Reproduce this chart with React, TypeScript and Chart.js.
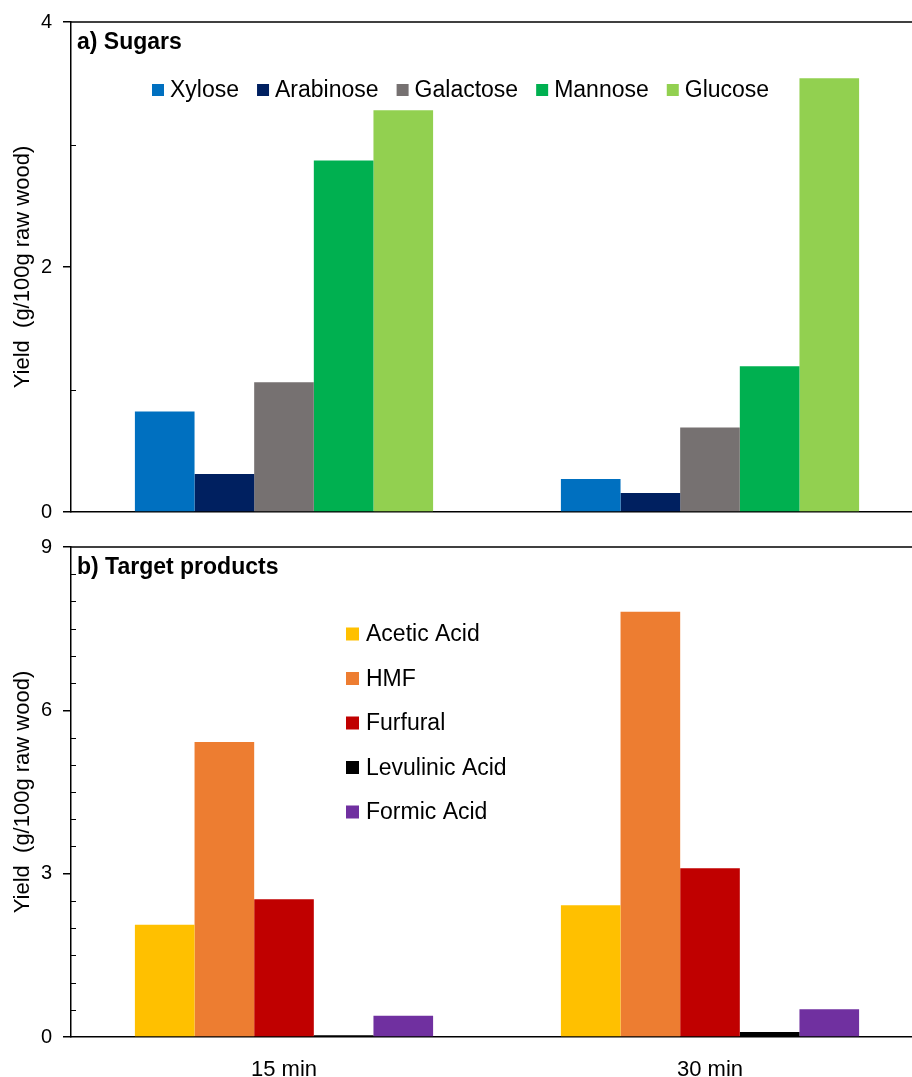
import React, { useEffect, useRef } from 'react';
import { Chart, registerables } from 'chart.js';

Chart.register(...registerables);

const categories = ['15 min', '30 min'];

const sugarNames = ['Xylose', 'Arabinose', 'Galactose', 'Mannose', 'Glucose'];
const sugarColors = ['#0070C0', '#002060', '#767171', '#00B050', '#92D050'];
const xylose = [0.82, 0.27];
const arabinose = [0.31, 0.155];
const galactose = [1.06, 0.69];
const mannose = [2.87, 1.19];
const glucose = [3.28, 3.54];

const productNames = ['Acetic Acid', 'HMF', 'Furfural', 'Levulinic Acid', 'Formic Acid'];
const productColors = ['#FFC000', '#ED7D31', '#C00000', '#000000', '#7030A0'];
const aceticAcid = [2.06, 2.42];
const hmf = [5.42, 7.81];
const furfural = [2.53, 3.1];
const levulinicAcid = [0.03, 0.09];
const formicAcid = [0.39, 0.51];

const sugarTicks = [0, 2, 4];
const productTicks = [0, 3, 6, 9];
const yTitle = 'Yield  (g/100g raw wood)';
const panelA = 'a) Sugars';
const panelB = 'b) Target products';

const FONT = '"Liberation Sans", Arial, sans-serif';

const decoPlugin = {
  id: 'panelDeco',
  afterDraw(chart: any, _args: any, opts: any) {
    const ctx = chart.ctx;
    const area = chart.chartArea;
    const y = chart.scales.y;
    ctx.save();
    ctx.strokeStyle = '#000';
    ctx.lineWidth = 1.5;
    // top frame line
    ctx.beginPath();
    ctx.moveTo(area.left, area.top);
    ctx.lineTo(chart.width, area.top);
    ctx.stroke();
    // minor ticks (inward)
    const maxV = y.max;
    for (let v = opts.minorStep; v < maxV - 1e-9; v += opts.minorStep) {
      const r = v / opts.majorStep;
      if (Math.abs(r - Math.round(r)) < 1e-6) continue;
      const py = Math.round(y.getPixelForValue(v)) + 0.5;
      ctx.lineWidth = 1;
      ctx.beginPath();
      ctx.moveTo(area.left, py);
      ctx.lineTo(area.left + 5, py);
      ctx.stroke();
    }
    // panel label
    ctx.fillStyle = '#000';
    ctx.font = `bold 23px ${FONT}`;
    ctx.textBaseline = 'middle';
    ctx.textAlign = 'left';
    ctx.fillText(opts.label, 77, area.top + 21);
    // legend
    ctx.font = `23px ${FONT}`;
    const ds = chart.data.datasets;
    if (opts.legend === 'horizontal') {
      let x = opts.legendX;
      const yc = opts.legendY;
      ds.forEach((d: any) => {
        ctx.fillStyle = d.backgroundColor;
        ctx.fillRect(x, yc - 6, 12, 12);
        ctx.fillStyle = '#000';
        ctx.fillText(d.label, x + 18, yc + 1);
        x += 18 + ctx.measureText(d.label).width + 18;
      });
    } else {
      ds.forEach((d: any, i: number) => {
        const yc = opts.legendY + i * opts.legendStep;
        ctx.fillStyle = d.backgroundColor;
        ctx.fillRect(opts.legendX, yc - 6.5, 13, 13);
        ctx.fillStyle = '#000';
        ctx.fillText(d.label, opts.legendX + 20, yc + 1);
      });
    }
    ctx.restore();
  },
};

function makeConfig(
  names: string[],
  colors: string[],
  series: number[][],
  ticks: number[],
  showX: boolean,
  deco: any,
  padTop: number,
  xHeight: number
): any {
  return {
    type: 'bar',
    data: {
      labels: categories,
      datasets: names.map((n, i) => ({
        label: n,
        data: series[i],
        backgroundColor: colors[i],
        borderWidth: 0,
        categoryPercentage: 0.7,
        barPercentage: 1.0,
      })),
    },
    plugins: [decoPlugin],
    options: {
      responsive: false,
      animation: false,
      layout: { padding: { top: padTop, right: 17, left: 0, bottom: 0 } },
      plugins: {
        legend: { display: false },
        tooltip: { enabled: false },
        panelDeco: deco,
      },
      scales: {
        x: {
          grid: { display: false },
          border: { display: true, color: '#000', width: 1.5 },
          ticks: {
            display: showX,
            color: '#000',
            font: { family: FONT, size: 22 },
            padding: 12,
          },
          afterFit: (s: any) => {
            s.height = xHeight;
            s.paddingLeft = 0;
            s.paddingRight = 0;
            s.paddingTop = 0;
            s.paddingBottom = 0;
          },
        },
        y: {
          min: ticks[0],
          max: ticks[ticks.length - 1],
          afterBuildTicks: (s: any) => {
            s.ticks = ticks.map((v) => ({ value: v }));
          },
          grid: {
            drawOnChartArea: false,
            drawTicks: true,
            tickLength: 8,
            color: '#000',
            lineWidth: 1.5,
          },
          border: { display: true, color: '#000', width: 1.5 },
          ticks: {
            color: '#000',
            font: { family: FONT, size: 20 },
            padding: 11,
          },
          title: {
            display: true,
            text: yTitle,
            color: '#000',
            font: { family: FONT, size: 22 },
            padding: { top: 10, bottom: 0 },
          },
          afterFit: (s: any) => {
            s.width = 71;
            s.paddingTop = 0;
            s.paddingBottom = 0;
            s.paddingLeft = 0;
            s.paddingRight = 0;
          },
        },
      },
    },
  };
}

export default function App() {
  const topRef = useRef<HTMLCanvasElement>(null);
  const botRef = useRef<HTMLCanvasElement>(null);

  useEffect(() => {
    const top = new Chart(
      topRef.current as HTMLCanvasElement,
      makeConfig(
        sugarNames,
        sugarColors,
        [xylose, arabinose, galactose, mannose, glucose],
        sugarTicks,
        false,
        {
          label: panelA,
          minorStep: 1,
          majorStep: 2,
          legend: 'horizontal',
          legendX: 152,
          legendY: 90,
        },
        22,
        18
      )
    );
    const bot = new Chart(
      botRef.current as HTMLCanvasElement,
      makeConfig(
        productNames,
        productColors,
        [aceticAcid, hmf, furfural, levulinicAcid, formicAcid],
        productTicks,
        true,
        {
          label: panelB,
          minorStep: 0.5,
          majorStep: 3,
          legend: 'vertical',
          legendX: 346,
          legendY: 104,
          legendStep: 44.5,
        },
        17,
        40
      )
    );
    return () => {
      top.destroy();
      bot.destroy();
    };
  }, []);

  return (
    <div
      style={{
        position: 'absolute',
        left: 0,
        top: 0,
        width: 912,
        height: 1077,
        overflow: 'hidden',
        background: '#fff',
      }}
    >
      <canvas
        ref={topRef}
        width={940}
        height={530}
        style={{ position: 'absolute', left: 0, top: 0, width: 940, height: 530 }}
      />
      <canvas
        ref={botRef}
        width={940}
        height={547}
        style={{ position: 'absolute', left: 0, top: 530, width: 940, height: 547 }}
      />
    </div>
  );
}
